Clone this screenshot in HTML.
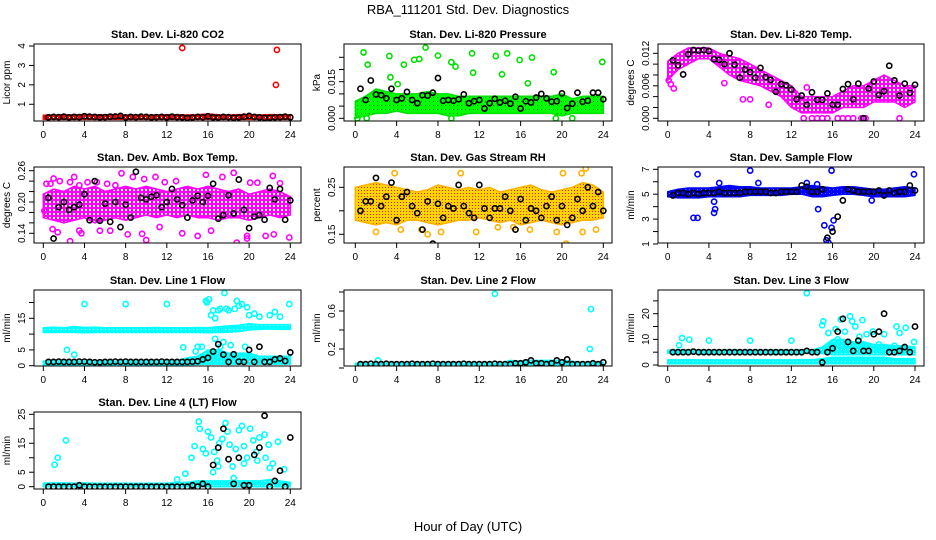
<!DOCTYPE html>
<html><head><meta charset="utf-8">
<style>
html,body{margin:0;padding:0;background:#fff;}
svg{display:block;font-family:"Liberation Sans",Arial,sans-serif;}
</style></head>
<body>
<svg id="chart" width="936" height="540" viewBox="0 0 936 540">
<defs>
<pattern id="pat-red" width="4" height="4" patternUnits="userSpaceOnUse"><rect width="4" height="4" fill="#ff0000"/><rect x="1" y="1" width="1" height="1" fill="#fff"/></pattern>
<pattern id="pat-green" width="4" height="4" patternUnits="userSpaceOnUse"><rect width="4" height="4" fill="#00ff00"/><rect x="1" y="1" width="1" height="1" fill="#228822"/></pattern>
<pattern id="pat-magenta" width="4" height="4" patternUnits="userSpaceOnUse"><rect width="4" height="4" fill="#ff00ff"/><rect x="1" y="1" width="2" height="2" fill="#fff"/></pattern>
<pattern id="pat-orange" width="3" height="3" patternUnits="userSpaceOnUse"><rect width="3" height="3" fill="#ffd400"/><rect x="1" y="1" width="1" height="1" fill="#e02000"/></pattern>
<pattern id="pat-blue" width="4" height="4" patternUnits="userSpaceOnUse"><rect width="4" height="4" fill="#0000ff"/><rect x="1" y="1" width="1" height="1" fill="#66f"/></pattern>
<pattern id="pat-cyan" width="4" height="4" patternUnits="userSpaceOnUse"><rect width="4" height="4" fill="#00ffff"/><rect x="1" y="1" width="1" height="1" fill="#bff"/></pattern>
</defs>
<text x="468" y="14" text-anchor="middle" font-size="13">RBA_111201  Std. Dev. Diagnostics</text>
<text x="468" y="531" text-anchor="middle" font-size="13">Hour of Day (UTC)</text>
</svg>
<script>
// shared half-hour sample times for black (averaged) points
const blackHours = [0.5,1,1.5,2,2.5,3,3.5,4,4.5,5,5.5,6,6.5,7,7.5,8,8.5,9,9.5,10,10.5,11,11.5,12,12.5,13,13.5,14,14.5,15,15.5,16,16.5,17,17.5,18,18.5,19,19.5,20,20.5,21,21.5,22,22.5,23,23.5,24];
const bandHours = [0,1,2,3,4,5,6,7,8,9,10,11,12,13,14,15,16,17,18,19,20,21,22,23,24];
const xTicks = [0,4,8,12,16,20,24];

// Panel 1 CO2
const p1BandLo = [0.22,0.22,0.22,0.23,0.22,0.22,0.22,0.22,0.22,0.22,0.22,0.22,0.22,0.22,0.22,0.22,0.22,0.22,0.22,0.22,0.22,0.22,0.22,0.22,0.22];
const p1BandHi = [0.44,0.45,0.46,0.45,0.48,0.45,0.46,0.47,0.45,0.45,0.44,0.45,0.46,0.46,0.45,0.46,0.5,0.46,0.45,0.47,0.46,0.45,0.47,0.46,0.45];
const p1OutX = [13.5,22.7,22.6];
const p1OutY = [3.9,3.8,2.0];
const p1Black = [0.33,0.35,0.34,0.36,0.33,0.35,0.34,0.38,0.36,0.35,0.33,0.34,0.36,0.37,0.40,0.32,0.35,0.34,0.36,0.35,0.33,0.34,0.35,0.33,0.36,0.34,0.33,0.30,0.32,0.35,0.34,0.38,0.33,0.32,0.35,0.34,0.31,0.33,0.36,0.40,0.35,0.33,0.30,0.31,0.33,0.34,0.36,0.33];
const p1Ticks = [1,2,3,4];
const p1Labels = ["1","2","3","4"];

// Panel 2 Pressure
const p2BandLo = [0,0.001,0.002,0.002,0.003,0.002,0.002,0.002,0.002,0.001,0.001,0.002,0.002,0.002,0.002,0.002,0.002,0.002,0.002,0.002,0.001,0.002,0.002,0.002,0.002];
const p2BandHi = [0.007,0.009,0.012,0.011,0.010,0.010,0.010,0.011,0.010,0.010,0.009,0.009,0.009,0.009,0.009,0.009,0.009,0.009,0.009,0.009,0.010,0.008,0.009,0.009,0.009];
const p2OutX = [0.8,1.2,3.3,3.4,4.1,4.7,5.7,6.2,6.8,8.0,9.3,9.7,11.3,11.4,13.6,14.2,14.7,15.9,16.7,17.1,19.2,23.9,0.2,1.1,9.3,19.4,21.0];
const p2OutY = [0.027,0.022,0.0255,0.0168,0.014,0.022,0.024,0.0243,0.029,0.0257,0.023,0.0212,0.0266,0.0187,0.0255,0.018,0.0266,0.0239,0.0143,0.0249,0.0189,0.0231,0,0,0,0,0];
const p2Black = [0.0121,0.0075,0.0155,0.0098,0.0095,0.0082,0.0121,0.0075,0.0082,0.0108,0.0075,0.0062,0.0095,0.0093,0.0105,0.0165,0.0072,0.0075,0.0072,0.0078,0.0098,0.0062,0.0070,0.0075,0.0040,0.0062,0.0080,0.0065,0.0072,0.0060,0.0088,0.0040,0.0070,0.0065,0.0085,0.0100,0.0082,0.0068,0.0070,0.0102,0.0042,0.0060,0.0105,0.0068,0.0072,0.0105,0.0105,0.0078];
const p2Ticks = [0,0.005,0.010,0.015,0.020,0.025];
const p2Labels = ["0.000","","","0.015","",""];

// Panel 3 Li-820 Temp
const p3BandLo = [0.007,0.009,0.010,0.011,0.011,0.0095,0.008,0.007,0.0065,0.006,0.005,0.004,0.002,0.001,0.001,0.001,0.001,0.002,0.002,0.002,0.003,0.003,0.003,0.002,0.003];
const p3BandHi = [0.0105,0.012,0.013,0.013,0.013,0.012,0.0115,0.011,0.010,0.009,0.008,0.007,0.006,0.004,0.004,0.004,0.004,0.005,0.006,0.006,0.007,0.008,0.007,0.006,0.006];
const p3OutX = [13.2,14.0,14.5,15.0,15.5,16.5,17.0,17.5,18.0,18.8,19.2,22.5,0.3,0.6,0.1,5.5,7.3,9.8,13.5,8.0];
const p3OutY = [0,0,0,0,0,0,0,0,0,0,0,0,0.0063,0.0055,0.0070,0.0065,0.0035,0.0025,0.0057,0.0035];
const p3Black = [0.0107,0.0098,0.0081,0.0118,0.0126,0.0125,0.0126,0.0124,0.0109,0.0108,0.0100,0.0120,0.0099,0.0075,0.0090,0.0085,0.0075,0.0093,0.0076,0.0071,0.0049,0.0063,0.0061,0.0053,0.0035,0.0042,0.0025,0.0048,0.0034,0.0034,0.0046,0.0025,0.0025,0.0054,0.0063,0.0035,0.0064,0.0000,0.0055,0.0068,0.0043,0.0050,0.0097,0.0070,0.0042,0.0064,0.0047,0.0062];
const p3Ticks = [0,0.002,0.004,0.006,0.008,0.010,0.012];
const p3Labels = ["0.000","","","0.006","","","0.012"];

// Panel 4 Amb Box Temp
const p4BandLo = [0.17,0.165,0.16,0.165,0.17,0.16,0.165,0.17,0.165,0.17,0.175,0.17,0.175,0.17,0.175,0.17,0.17,0.165,0.17,0.17,0.165,0.17,0.175,0.17,0.175];
const p4BandHi = [0.215,0.225,0.22,0.23,0.225,0.23,0.22,0.225,0.23,0.225,0.23,0.225,0.22,0.225,0.23,0.225,0.23,0.225,0.22,0.225,0.215,0.22,0.225,0.22,0.21];
const p4OutX = [0.3,0.7,1.0,1.6,2.6,3.0,3.5,4.3,5.2,6.2,7.0,7.6,8.7,9.8,10.9,11.8,12.9,15.8,17.4,18.5,20.1,20.8,22.3,23.0,0.9,1.4,2.6,3.5,3.7,5.5,6.5,8.2,9.6,10.0,11.3,13.5,15.0,16.3,18.8,19.8,21.6,22.4,23.9,0.1,19.8];
const p4OutY = [0.235,0.235,0.245,0.240,0.238,0.248,0.232,0.238,0.238,0.235,0.232,0.255,0.248,0.244,0.248,0.238,0.24,0.252,0.248,0.256,0.237,0.237,0.250,0.236,0.148,0.142,0.125,0.145,0.14,0.145,0.145,0.138,0.139,0.127,0.152,0.140,0.135,0.145,0.122,0.135,0.135,0.138,0.132,0.183,0.130];
const p4Black = [0.208,0.130,0.190,0.200,0.185,0.190,0.195,0.215,0.165,0.240,0.164,0.197,0.162,0.200,0.152,0.195,0.170,0.258,0.208,0.205,0.210,0.213,0.190,0.200,0.225,0.205,0.194,0.170,0.203,0.212,0.200,0.212,0.235,0.168,0.175,0.213,0.178,0.243,0.185,0.150,0.172,0.175,0.166,0.227,0.205,0.225,0.166,0.203];
const p4Ticks = [0.14,0.16,0.18,0.20,0.22,0.24,0.26];
const p4Labels = ["0.14","","","0.20","","","0.26"];

// Panel 5 Gas Stream RH
const p5BandLo = [0.18,0.175,0.17,0.175,0.17,0.18,0.18,0.175,0.17,0.175,0.18,0.18,0.185,0.18,0.175,0.18,0.17,0.175,0.18,0.175,0.17,0.175,0.18,0.18,0.185];
const p5BandHi = [0.25,0.255,0.26,0.255,0.25,0.245,0.24,0.245,0.255,0.25,0.245,0.25,0.245,0.25,0.24,0.245,0.25,0.255,0.245,0.24,0.245,0.25,0.26,0.255,0.24];
const p5OutX = [2.0,3.8,4.4,5.6,6.4,7.0,8.3,10.2,11.7,13.8,15.3,16.9,19.5,20.1,20.4,22.0,22.3,21.9,23.3];
const p5OutY = [0.155,0.28,0.16,0.3,0.16,0.15,0.155,0.28,0.155,0.165,0.165,0.16,0.155,0.28,0.13,0.155,0.29,0.28,0.16];
const p5Black = [0.200,0.220,0.220,0.270,0.210,0.230,0.260,0.180,0.230,0.240,0.210,0.195,0.160,0.220,0.130,0.215,0.185,0.210,0.205,0.255,0.210,0.195,0.185,0.255,0.205,0.185,0.205,0.205,0.230,0.200,0.160,0.225,0.180,0.205,0.200,0.185,0.210,0.230,0.180,0.210,0.170,0.185,0.225,0.200,0.250,0.210,0.240,0.200];
const p5Ticks = [0.15,0.20,0.25];
const p5Labels = ["0.15","","0.25"];

// Panel 6 Sample Flow
const p6BandLo = [4.8,4.7,4.7,4.7,4.8,4.8,4.8,4.8,4.9,4.9,4.9,4.9,5.0,5.0,4.8,4.8,4.9,5.0,5.0,4.9,4.8,4.8,4.8,4.8,4.9];
const p6BandHi = [5.2,5.4,5.5,5.5,5.5,5.6,5.7,5.6,5.6,5.5,5.5,5.5,5.5,5.6,5.7,5.6,5.5,5.6,5.6,5.5,5.4,5.4,5.5,5.6,5.5];
const p6OutX = [2.5,2.9,2.9,4.5,4.6,8.0,14.6,15.2,15.4,15.6,15.9,15.9,23.9,13.5,14.5,4.5,5.0,8.8,16.1,19.8];
const p6OutY = [3.1,3.1,6.6,3.5,3.8,6.9,3.8,2.5,1.3,1.1,6.9,2.3,6.6,5.9,5.8,4.4,5.9,5.9,2.9,4.5];
const p6Black = [4.9,5.1,5.1,5.0,5.1,5.0,5.1,5.1,5.1,5.2,5.1,5.1,5.1,5.1,5.2,5.2,5.2,5.2,5.2,5.1,5.1,5.2,5.2,5.2,5.2,5.7,5.6,5.2,5.2,5.4,1.5,2.0,3.2,4.5,5.4,5.3,5.2,5.2,5.2,5.2,5.3,4.9,5.3,5.1,5.2,5.2,5.7,5.3];
const p6Ticks = [1,2,3,4,5,6,7];
const p6Labels = ["1","","3","","5","","7"];

// Panel 7 Line 1 Flow
const p7BandALo = [10.5,10.5,10.6,10.5,10.4,10.5,10.5,10.5,10.5,10.5,10.5,10.5,10.5,10.5,10.5,10.5,10.4,10.5,10.6,10.8,11.3,11.5,11.6,11.5,11.5];
const p7BandAHi = [12.0,12.2,12.0,12.4,12.1,12.2,12.0,12.0,12.0,12.0,12.0,12.1,12.0,12.0,12.0,12.1,12.0,12.3,12.6,12.8,13.3,13.0,13.0,13.0,13.0];
const p7BandBLo = [0.3,0.3,0.3,0.3,0.3,0.3,0.3,0.3,0.3,0.3,0.3,0.3,0.3,0.3,0.3,0.4,0.5,0.5,0.5,0.5,0.5,0.5,0.5,0.5,0.5];
const p7BandBHi = [1.5,1.6,1.6,1.5,1.5,1.6,1.5,1.5,1.5,1.5,1.5,1.5,1.6,1.6,2.5,3.0,5.0,5.0,4.0,4.0,4.0,3.0,3.0,3.0,3.0];
const p7OutX = [4.0,8.0,12.0,15.8,15.9,16.1,16.3,16.5,16.7,17.0,17.2,17.6,17.8,18.0,18.6,18.8,19.0,19.3,19.8,20.0,20.5,21.0,22.0,22.5,23.0,23.9,16.7,17.5,18.2,13.6,15.4,3.0,2.3,17.2,19.6,14.8,15.0,16.4];
const p7OutY = [19.5,19.5,19.5,20.5,20,21,16,17.5,15,17.5,18,23,18,17.5,18,20.5,19,19.5,18.5,16,16.5,15.5,16,17,15.5,19.5,8.5,7.5,6.5,5.8,6,3.5,5,6,6,4.5,6.0,3.2];
const p7Black = [1.2,1.2,1.3,1.2,1.2,1.2,1.3,1.3,1.2,1.1,1.1,1.2,1.2,1.3,1.2,1.3,1.2,1.2,1.2,1.2,1.2,1.2,1.3,1.2,1.2,1.2,1.2,1.2,1.3,1.4,2.0,2.5,4.5,6.8,3.5,1.2,3.6,1.3,1.2,5.0,1.2,6.0,1.2,1.2,2.0,2.3,1.5,4.2];
const p7Ticks = [0,5,10,15,20];
const p7Labels = ["0","5","","15",""];

// Panel 8 Line 2 Flow
const p8BandLo = [0.01,0.01,0.01,0.01,0.01,0.01,0.01,0.01,0.01,0.01,0.01,0.01,0.01,0.01,0.01,0.01,0.01,0.01,0.01,0.01,0.01,0.01,0.01,0.01,0.01];
const p8BandHi = [0.05,0.05,0.05,0.055,0.05,0.05,0.05,0.05,0.05,0.05,0.05,0.05,0.05,0.05,0.05,0.08,0.07,0.08,0.08,0.08,0.08,0.07,0.06,0.06,0.06];
const p8OutX = [13.5,22.8,22.7,2.2];
const p8OutY = [0.78,0.62,0.2,0.08];
const p8Black = [0.04,0.04,0.045,0.04,0.04,0.045,0.04,0.04,0.04,0.04,0.045,0.04,0.04,0.04,0.045,0.04,0.04,0.04,0.04,0.04,0.045,0.04,0.04,0.04,0.04,0.04,0.045,0.04,0.04,0.04,0.05,0.05,0.06,0.08,0.05,0.05,0.04,0.05,0.08,0.06,0.09,0.04,0.04,0.04,0.04,0.05,0.04,0.06];
const p8Ticks = [0,0.2,0.4,0.6,0.8];
const p8Labels = ["","0.2","","0.6",""];

// Panel 9 Line 3 Flow
const p9BandALo = [4.6,4.6,4.6,4.6,4.6,4.6,4.6,4.6,4.6,4.6,4.6,4.6,4.6,4.6,4.6,4.5,4.0,4.0,4.0,4.0,4.0,4.0,4.0,4.0,4.0];
const p9BandAHi = [5.8,5.9,5.8,5.8,5.8,5.8,5.8,5.8,5.8,5.8,5.8,5.8,5.8,5.9,5.8,7.0,10.0,10.0,9.0,9.0,8.0,8.0,7.5,7.5,7.0];
const p9BandBLo = [0.5,0.5,0.5,0.5,0.5,0.5,0.5,0.5,0.5,0.5,0.5,0.5,0.5,0.5,0.5,0.5,0.5,0.5,0.5,0.5,0.5,0.5,0.5,0.5,0.5];
const p9BandBHi = [2.0,2.0,2.1,2.0,2.0,2.0,2.0,2.0,2.0,2.0,2.0,2.0,2.0,2.1,2.1,2.5,3.0,3.0,3.0,3.0,3.0,3.0,2.5,2.5,2.5];
const p9OutX = [1.1,1.4,2.1,4.0,8.0,12.0,13.5,15.0,15.1,15.6,16.3,16.8,17.2,17.7,17.9,18.2,18.6,18.9,19.3,19.9,20.5,21.0,22.2,22.5,23.1,23.9,15.9,16.5,17.5,19.0,20.6,22.0];
const p9OutY = [7.7,10.5,9.9,9.5,9.5,9.5,28,15.5,17,12.5,14,17.8,13,19,17,15,11,17.5,12,13,8,12,15,12.5,14.5,9,7,10,9,8,6,7.5];
const p9Black = [5,5,5,5,5.2,5,5,5,5,5,5,5,5,5,5,5,5,5,5,5,5,5,5,5,5,5,5.5,5,5,1,5,6.5,13,18,9,5.5,9.5,5.5,5.5,12,13,20,5,5,5.5,7,5,15];
const p9Ticks = [0,5,10,15,20,25];
const p9Labels = ["0","","10","","20",""];

// Panel 10 Line 4 (LT) Flow
const p10BandLo = [0,0,0,0,0,0,0,0,0,0,0,0,0,0,0,0,0,0,0,0,0,0,0,0,0];
const p10BandHi = [1.2,1.3,1.3,1.2,1.3,1.2,1.2,1.2,1.2,1.2,1.2,1.2,1.2,1.5,1.5,2.0,2.0,2.0,2.0,2.0,2.0,2.0,2.5,2.0,1.5];
const p10OutX = [1.1,1.4,2.2,13.0,13.8,14.4,14.7,15.1,15.2,15.5,15.8,16.0,16.3,16.6,16.9,17.1,17.4,17.7,17.9,18.1,18.4,18.7,19.0,19.3,19.5,19.8,20.1,20.4,20.7,21.0,21.5,21.9,22.3,22.8,23.4,16.5,17.0,18.5,19.5,20.8,21.6,22.0];
const p10OutY = [7.6,10.0,16.0,2.5,4.5,10,14,22.5,20,13,11.5,19,17,12,9,15,16.5,22,19,14.5,7,13,19.5,21,14,10,20,16,12,17,18,14.5,8,15.5,6,5,7,3,8,9,10,6.5];
const p10Black = [0,0,0,0,0,0,0.5,0,0,0,0,0,0,0,0,0,0,0,0,0,0,0,0,0,0,0,0,0,0.5,0,1,0,7.5,13.5,20,9.5,1,10,0.5,0.5,11,13.5,24.5,0,2,5.5,0,17];
const p10Ticks = [0,5,10,15,20,25];
const p10Labels = ["0","5","","15","","25"];

const svg = document.getElementById('chart');
const NS = 'http://www.w3.org/2000/svg';
function mk(tag, attrs, parent){const e=document.createElementNS(NS,tag);for(const k in attrs)e.setAttribute(k,attrs[k]);(parent||svg).appendChild(e);return e;}

const cols = [{x0:43.3,x24:290.3,L:34,R:301},{x0:355.3,x24:603.3,L:344,R:612},{x0:667.7,x24:915,L:658,R:924}];
const rows = [{T:44,B:121},{T:167,B:243},{T:290,B:366},{T:412,B:489}];

const panels = [
 {title:'Stan. Dev. Li-820 CO2',ylab:'Licor ppm',c:0,r:0,v0:0,p0:123.7,v1:4,p1:46,ticks:p1Ticks,labels:p1Labels,pat:'pat-red',col:'#ff0000',bands:[[p1BandLo,p1BandHi]],ox:p1OutX,oy:p1OutY,black:p1Black},
 {title:'Stan. Dev. Li-820 Pressure',ylab:'kPa',c:1,r:0,v0:0,p0:118.3,v1:0.015,p1:81.7,ticks:p2Ticks,labels:p2Labels,pat:'pat-green',col:'#00e000',bands:[[p2BandLo,p2BandHi]],ox:p2OutX,oy:p2OutY,black:p2Black},
 {title:'Stan. Dev. Li-820 Temp.',ylab:'degrees C',c:2,r:0,v0:0,p0:118.3,v1:0.012,p1:53.3,ticks:p3Ticks,labels:p3Labels,pat:'pat-magenta',col:'#ff00ff',bands:[[p3BandLo,p3BandHi]],ox:p3OutX,oy:p3OutY,black:p3Black},
 {title:'Stan. Dev. Amb. Box Temp.',ylab:'degrees C',c:0,r:1,v0:0.14,p0:233.3,v1:0.26,p1:170.7,ticks:p4Ticks,labels:p4Labels,pat:'pat-magenta',col:'#ff00ff',bands:[[p4BandLo,p4BandHi]],ox:p4OutX,oy:p4OutY,black:p4Black},
 {title:'Stan. Dev. Gas Stream RH',ylab:'percent',c:1,r:1,v0:0.15,p0:234.3,v1:0.25,p1:187.3,ticks:p5Ticks,labels:p5Labels,pat:'pat-orange',col:'#ffb000',bands:[[p5BandLo,p5BandHi]],ox:p5OutX,oy:p5OutY,black:p5Black},
 {title:'Stan. Dev. Sample Flow',ylab:'ml/min',c:2,r:1,v0:1,p0:244,v1:7,p1:169.3,ticks:p6Ticks,labels:p6Labels,pat:'pat-blue',col:'#0000ff',bands:[[p6BandLo,p6BandHi]],ox:p6OutX,oy:p6OutY,black:p6Black},
 {title:'Stan. Dev. Line 1 Flow',ylab:'ml/min',c:0,r:2,v0:0,p0:365.7,v1:15,p1:318.3,ticks:p7Ticks,labels:p7Labels,pat:'pat-cyan',col:'#00ffff',bands:[[p7BandALo,p7BandAHi],[p7BandBLo,p7BandBHi]],ox:p7OutX,oy:p7OutY,black:p7Black},
 {title:'Stan. Dev. Line 2 Flow',ylab:'ml/min',c:1,r:2,v0:0,p0:368,v1:0.6,p1:311,ticks:p8Ticks,labels:p8Labels,pat:'pat-cyan',col:'#00ffff',bands:[[p8BandLo,p8BandHi]],ox:p8OutX,oy:p8OutY,black:p8Black},
 {title:'Stan. Dev. Line 3 Flow',ylab:'ml/min',c:2,r:2,v0:0,p0:365,v1:20,p1:313.7,ticks:p9Ticks,labels:p9Labels,pat:'pat-cyan',col:'#00ffff',bands:[[p9BandALo,p9BandAHi],[p9BandBLo,p9BandBHi]],ox:p9OutX,oy:p9OutY,black:p9Black},
 {title:'Stan. Dev. Line 4 (LT) Flow',ylab:'ml/min',c:0,r:3,v0:0,p0:486.7,v1:25,p1:414.3,ticks:p10Ticks,labels:p10Labels,pat:'pat-cyan',col:'#00ffff',bands:[[p10BandLo,p10BandHi]],ox:p10OutX,oy:p10OutY,black:p10Black}
];

panels.forEach((p,i)=>{
  const C=cols[p.c], Rw=rows[p.r];
  const xs = h => C.x0 + (C.x24-C.x0)*h/24;
  const ys = v => p.p0 + (p.p1-p.p0)*(v-p.v0)/(p.v1-p.v0);
  const g = mk('g',{});
  
  
  const clipId='clip'+i;
  const cp=mk('clipPath',{id:clipId},g);
  mk('rect',{x:C.L,y:Rw.T,width:C.R-C.L,height:Rw.B-Rw.T},cp);
  const t=mk('text',{x:(C.L+C.R)/2,y:Rw.T-6,'text-anchor':'middle','font-size':'11','font-weight':'bold'},g);
  t.textContent=p.title;
  
  
  const plot=mk('g',{'clip-path':'url(#'+clipId+')'},g);
  p.bands.forEach(b=>{
    let pts=[];
    bandHours.forEach((h,k)=>pts.push(xs(h).toFixed(1)+','+ys(b[1][k]).toFixed(1)));
    for(let k=bandHours.length-1;k>=0;k--) pts.push(xs(bandHours[k]).toFixed(1)+','+ys(b[0][k]).toFixed(1));
    const poly=mk('polygon',{points:pts.join(' '),fill:'url(#'+p.pat+')',stroke:p.col,'stroke-width':'1.5','stroke-linejoin':'round'},plot);
    
    
  });
  p.ox.forEach((h,k)=>{
    const c=mk('circle',{cx:xs(h),cy:ys(p.oy[k]),r:2.6,fill:'none',stroke:p.col,'stroke-width':'1.6'},plot);
    
    
  });
  blackHours.forEach((h,k)=>{
    const c=mk('circle',{cx:xs(h),cy:ys(p.black[k]),r:2.6,fill:'none',stroke:'#000','stroke-width':'1.6'},plot);
    
    
  });
  const box=mk('rect',{x:C.L,y:Rw.T,width:C.R-C.L,height:Rw.B-Rw.T,fill:'none',stroke:'#000','stroke-width':'1'},g);
  
  
  xTicks.forEach(h=>{
    mk('line',{x1:xs(h),x2:xs(h),y1:Rw.B,y2:Rw.B+5,stroke:'#000'},g);
    const tl=mk('text',{x:xs(h),y:Rw.B+17,'text-anchor':'middle','font-size':'10'},g);
    tl.textContent=String(h);
    
    
  });
  p.ticks.forEach((v,k)=>{
    const y=ys(v);
    mk('line',{x1:C.L-5,x2:C.L,y1:y,y2:y,stroke:'#000'},g);
    if(p.labels[k]){
      const yl=mk('text',{x:C.L-9,y:y,'text-anchor':'middle','font-size':'10',transform:'rotate(-90 '+(C.L-9)+' '+y+')'},g);
      yl.textContent=p.labels[k];
      
      
    }
  });
  const ymid=(Rw.T+Rw.B)/2, yx=C.L-24;
  const yt=mk('text',{x:yx,y:ymid,'text-anchor':'middle','font-size':'10',transform:'rotate(-90 '+yx+' '+ymid+')'},g);
  yt.textContent=p.ylab;
  
  
});
</script>
</body></html>
